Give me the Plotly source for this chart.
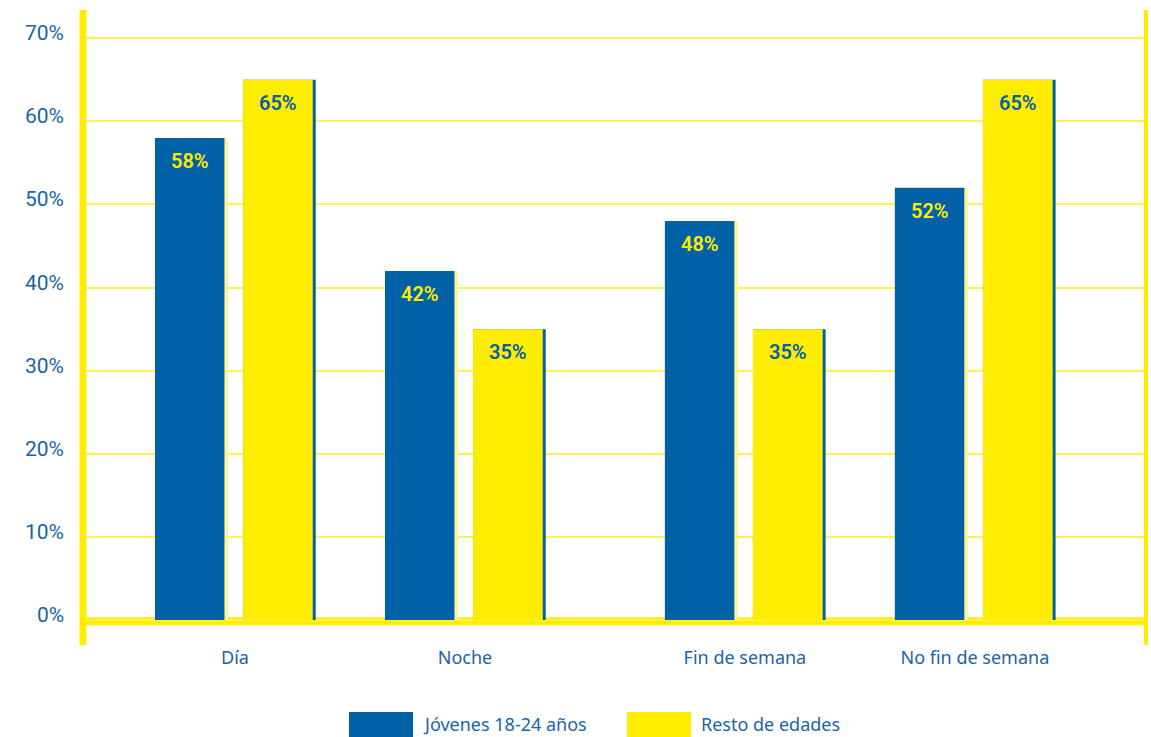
import plotly.graph_objects as go

# Data
categories = ["Día", "Noche", "Fin de semana", "No fin de semana"]
jovenes = [58, 42, 48, 52]
resto = [65, 35, 35, 65]
series_names = ["Jóvenes 18-24 años", "Resto de edades"]
y_ticks = [0, 10, 20, 30, 40, 50, 60, 70]
y_tick_labels = [f"{v}%" for v in y_ticks]

# Layout: group centres along the x axis (Noche / Fin de semana are set further apart)
group_pos = [0, 1, 2.217, 3.217]

BLUE = "#0061A7"
YELLOW = "#FFEC00"
LIGHT = "#FFF39A"
GRID = "#FFF14F"
TEXT = "#1B63A6"
FONT = "Noto Sans"
NUM_FONT = "Roboto"

fig = go.Figure()

# Blue bars with a pale right edge drawn as an underlay
fig.add_trace(go.Bar(x=group_pos, y=jovenes, offset=-0.348, width=0.317,
                     marker=dict(color=LIGHT, line=dict(width=0)), hoverinfo="skip"))
fig.add_trace(go.Bar(x=group_pos, y=jovenes, offset=-0.348, width=0.302,
                     marker=dict(color=BLUE, line=dict(width=0)), name=series_names[0]))
# Yellow bars with a blue right edge
fig.add_trace(go.Bar(x=group_pos, y=resto, offset=0.035, width=0.316,
                     marker=dict(color=BLUE, line=dict(width=0)), hoverinfo="skip"))
fig.add_trace(go.Bar(x=group_pos, y=resto, offset=0.035, width=0.303,
                     marker=dict(color=YELLOW, line=dict(width=0)), name=series_names[1]))

# Value labels inside the top of each bar
for xp, v in zip(group_pos, jovenes):
    fig.add_annotation(x=xp - 0.197, y=v, text=f"{v}%", showarrow=False,
                       yshift=-23, font=dict(family=NUM_FONT, size=20, weight=600,
                                             color=YELLOW))
for xp, v in zip(group_pos, resto):
    fig.add_annotation(x=xp + 0.186, y=v, text=f"{v}%", showarrow=False,
                       yshift=-23, font=dict(family=NUM_FONT, size=20, weight=600,
                                             color=BLUE))

# Y tick labels, sitting slightly above their gridlines
for v, lab in zip(y_ticks, y_tick_labels):
    fig.add_annotation(xref="paper", yref="y", x=-17 / 1063, y=v, text=lab,
                       showarrow=False, xanchor="right", yanchor="middle", yshift=5,
                       font=dict(family=NUM_FONT, size=21, color=TEXT))

# Frame: thick baseline and yellow vertical rules
fig.add_shape(type="line", xref="paper", yref="y", x0=0, x1=1, y0=-0.15, y1=-0.15,
              line=dict(color=YELLOW, width=8), layer="below")
fig.add_shape(type="line", xref="paper", yref="paper", x0=0, x1=0, y0=0, y1=1,
              line=dict(color=YELLOW, width=7), layer="above")
fig.add_shape(type="line", xref="paper", yref="paper", x0=1, x1=1, y0=0, y1=1,
              line=dict(color=YELLOW, width=4), layer="above")

# Legend drawn below the plot
legend_items = [(series_names[0], BLUE, 349), (series_names[1], YELLOW, 627)]
for name, col, px in legend_items:
    x0 = (px - 83) / 1063
    x1 = (px + 64 - 83) / 1063
    fig.add_shape(type="rect", xref="paper", yref="paper", x0=x0, x1=x1,
                  y0=(645 - 737) / 635, y1=(645 - 712) / 635,
                  line=dict(width=0), fillcolor=col)
    fig.add_annotation(xref="paper", yref="paper", x=(px + 72 - 83) / 1063,
                       y=(645 - 724) / 635, text=name, showarrow=False,
                       xanchor="left", yanchor="middle",
                       font=dict(family=FONT, size=18, color=TEXT))

fig.update_layout(
    width=1151, height=737,
    margin=dict(l=83, r=5, t=10, b=92),
    paper_bgcolor="white", plot_bgcolor="white",
    barmode="overlay", showlegend=False,
    font=dict(family=FONT, color=TEXT),
    xaxis=dict(range=[-0.661, 3.961], tickmode="array", tickvals=group_pos,
               ticktext=categories, showgrid=False, zeroline=False, showline=False,
               ticks="", tickfont=dict(family=FONT, size=18, color=TEXT)),
    yaxis=dict(range=[-3.0, 73.4], tickmode="array", tickvals=y_ticks,
               showticklabels=False, showgrid=True, gridcolor=GRID, gridwidth=2,
               zeroline=False, showline=False, ticks=""),
)

fig.write_html("out.html")
